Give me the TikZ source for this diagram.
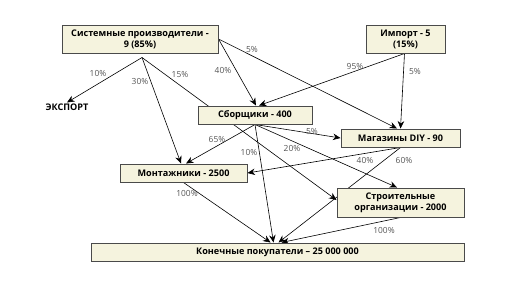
\documentclass[tikz,border=0pt]{standalone}
\usepackage{fontspec}
\setmainfont{Open Sans}
\usetikzlibrary{arrows.meta,backgrounds}
\definecolor{boxfill}{HTML}{F5F3DE}
\definecolor{boxline}{HTML}{4A4A4A}
\definecolor{labgray}{HTML}{555555}
\tikzset{
  box/.style={draw=boxline, line width=1pt, fill=boxfill, inner sep=0pt, align=center,
    font=\fontsize{9.1}{11}\selectfont\bfseries},
  conn/.style={draw=black, line width=0.6pt, -{Stealth[length=7.5pt,width=6.5pt,inset=2.5pt]}},
  pct/.style={text=labgray, font=\fontsize{8.4}{10}\selectfont, inner sep=0pt}
}
\begin{document}
\begin{tikzpicture}[x=1pt,y=-1pt]
\useasboundingbox (0,0) rectangle (516,290);
% boxes
\node[box, minimum width=156pt, minimum height=28pt] (sys) at (140,39) {Системные производители -\\9 (85\%)};
\node[box, minimum width=79pt, minimum height=28pt] (imp) at (405.5,39) {Импорт - 5\\(15\%)};
\node[font=\fontsize{9.1}{11}\selectfont\bfseries, inner sep=2pt] (exp) at (67,107) {ЭКСПОРТ};
\node[box, minimum width=114pt, minimum height=18pt] (sb) at (255,115) {Сборщики - 400};
\node[box, minimum width=119pt, minimum height=18pt] (diy) at (400.5,138) {Магазины DIY - 90};
\node[box, minimum width=127pt, minimum height=18pt] (mont) at (183.5,173) {Монтажники - 2500};
\node[box, minimum width=127pt, minimum height=29pt] (str) at (400.5,202.5) {Строительные\\организации - 2000};
\node[box, minimum width=373pt, minimum height=18pt] (kon) at (277.5,252) {Конечные покупатели – 25 000 000};
% connectors
\begin{scope}[on background layer]
\coordinate (s1) at ([xshift=2pt,yshift=-4pt]sys.south);
\draw[conn] (s1) -- ([yshift=-1pt]exp.north);
\draw[conn] (s1) -- ([xshift=-2.5pt]mont.north);
\draw[conn] (s1) -- ([yshift=2.5pt]str.west);
\draw[conn] (sys.east) -- ([xshift=1pt]sb.north);
\draw[conn] (sys.east) -- ([xshift=-3.5pt]diy.north);
\draw[conn] ([xshift=-1pt]imp.south) -- ([xshift=4pt]sb.north);
\draw[conn] ([xshift=-1pt]imp.south) -- (diy.north);
\draw[conn] (sb.south) -- ([xshift=2.5pt]mont.north);
\draw[conn] (sb.south) -- (diy.west);
\draw[conn] (sb.south) -- ([xshift=-4pt]kon.north);
\draw[conn] (sb.south) -- ([xshift=-3.5pt]str.north);
\draw[conn] (diy.south) -- (mont.east);
\draw[conn] (diy.south) -- ([xshift=1pt]kon.north);
\draw[conn] (mont.south) -- ([xshift=-7pt]kon.north);
\draw[conn] (str.south) -- ([xshift=4pt]kon.north);
\end{scope}
% labels
\node[pct] (l1) at (98,73) {10\%};
\node[pct] (l2) at (140,81) {30\%};
\node[pct] (l3) at (180,74) {15\%};
\node[pct] (l4) at (223,70.5) {40\%};
\node[pct] (l5) at (252,49) {5\%};
\node[pct] (l6) at (355,66) {95\%};
\node[pct] (l7) at (415,71) {5\%};
\node[pct] (l8) at (217,139) {65\%};
\node[pct] (l9) at (249,152) {10\%};
\node[pct] (l10) at (292,148) {20\%};
\node[pct] (l11) at (312,131) {5\%};
\node[pct] (l12) at (365,160) {40\%};
\node[pct] (l13) at (404,160) {60\%};
\node[pct] (l14) at (187,193) {100\%};
\node[pct] (l15) at (384,230) {100\%};
\end{tikzpicture}
\end{document}
